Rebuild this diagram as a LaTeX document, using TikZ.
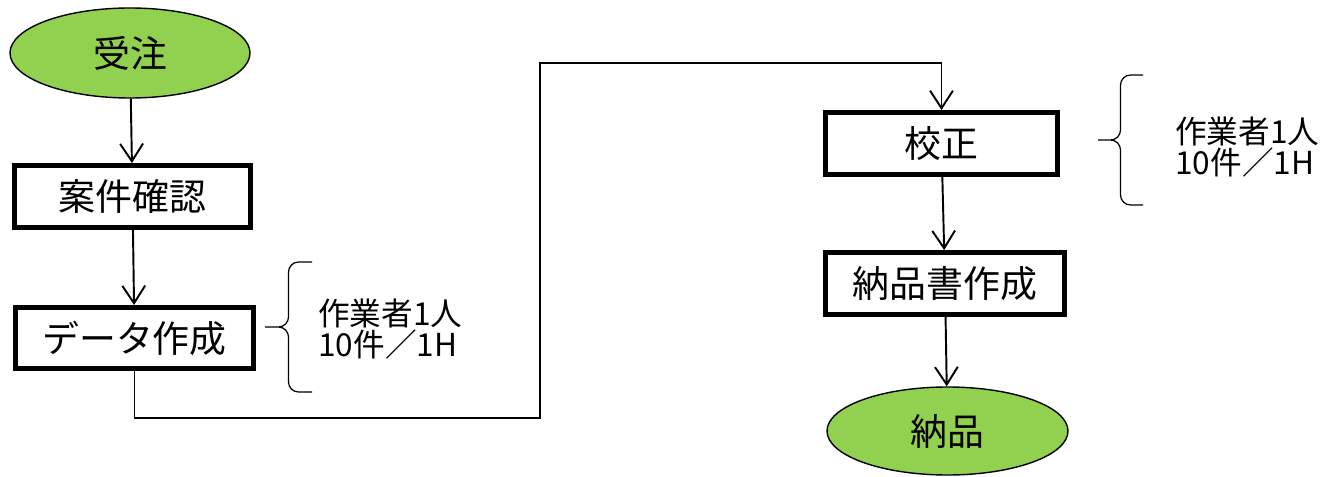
\documentclass[tikz,border=0pt]{standalone}
\usepackage{fontspec}
\setmainfont{Noto Sans CJK JP}
\usetikzlibrary{arrows.meta, shapes.geometric}
\definecolor{leafgreen}{HTML}{92D050}

\begin{document}
\begin{tikzpicture}
	\tikzset{
		terminal/.style = {ellipse, draw, line width = 0.8pt, fill = leafgreen, minimum width = 4.8cm, minimum height = 1.8cm, inner sep = 0pt, font = \fontsize{21}{25}\selectfont},
		process/.style args = {#1:#2}{rectangle, draw, line width = 2.8pt, minimum width = #1cm, minimum height = #2cm, inner sep = 0pt, font = \fontsize{21}{25}\selectfont},
		flow/.style = {line width = 1.1pt, -{Straight Barb[length=10pt, width=13pt]}},
		note/.style = {anchor = west, align = left, inner sep = 0pt, font = \fontsize{18}{17.6}\selectfont},
		curly brace/.style args = {#1:#2}{
			insert path = {+(0, #1) -| +(-#2/2, 0) -- +(-#2, 0) +(0, -#1) -| +(-#2/2, 0) -- +(-#2, 0)}
		}
	}

	\useasboundingbox (0, 0) rectangle (26.72, 9.52);

	\node[terminal] (order) at (2.6, 8.46) {受注};
	\node[process = 4.72:1.24] (check) at (2.65, 5.59) {案件確認};
	\node[process = 4.76:1.22] (data) at (2.69, 2.76) {データ作成};
	\node[process = 4.64:1.24] (proof) at (18.83, 6.65) {校正};
	\node[process = 4.78:1.24] (slip) at (18.9, 3.85) {納品書作成};
	\node[terminal, minimum width = 4.82cm, minimum height = 1.76cm] (delivery) at (18.95, 0.9) {納品};

	\node[note] (note1) at (6.36, 2.94) {作業者1人\\10件／1H};
	\node[note] (note2) at (23.5, 6.58) {作業者1人\\10件／1H};

	\draw[line width = 0.7pt, rounded corners = 0.2cm] (6.24, 2.98) [curly brace = 1.3:0.94];
	\draw[line width = 0.7pt, rounded corners = 0.2cm] (22.86, 6.72) [curly brace = 1.3:0.9];

	\foreach \from/\to in {order/check, check/data, proof/slip, slip/delivery}
	\draw[flow] (\from) -- (\to);

	\coordinate (low) at (10.8, 1.16);
	\coordinate (high) at (10.8, 8.26);
	\draw[flow] (data.south) |- (low) -- (high) -| (proof.north);
\end{tikzpicture}
\end{document}
